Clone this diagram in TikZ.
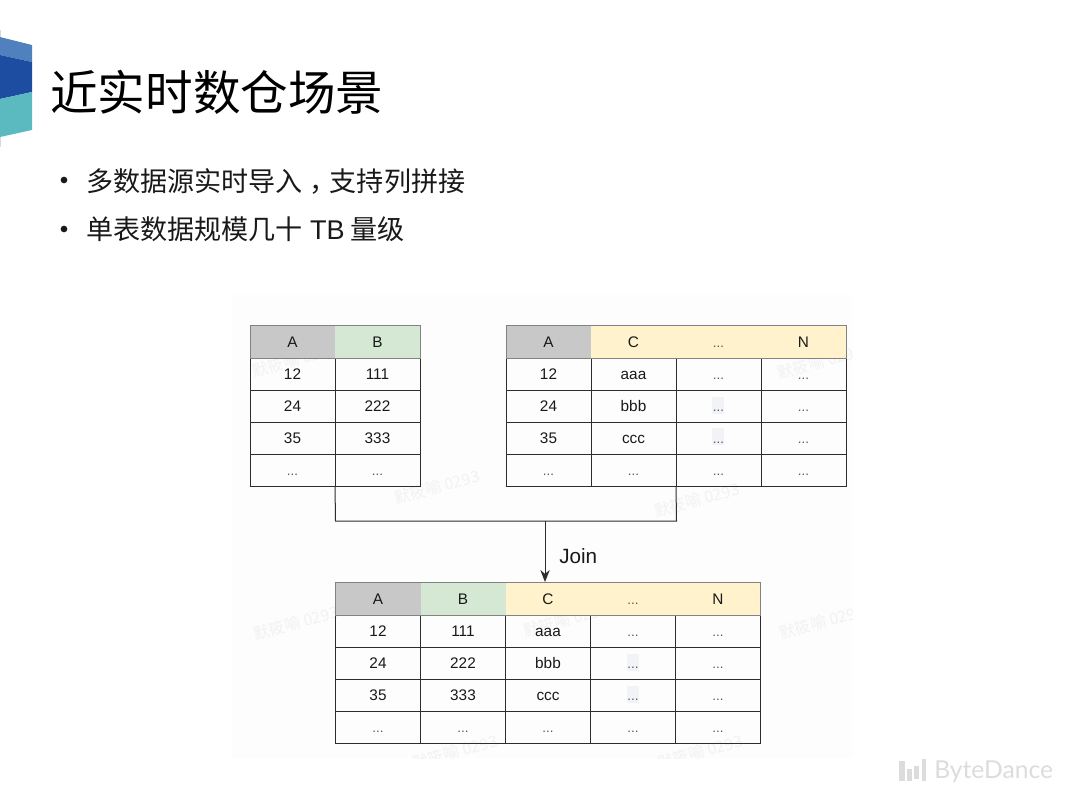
\documentclass[tikz,border=0pt]{standalone}
\usepackage{fontspec}
\setmainfont{Liberation Sans}
\newfontfamily\cjkfont{Noto Sans CJK SC}
\newfontfamily\logofont{Lato}
\usetikzlibrary{arrows.meta}
\definecolor{lineblack}{RGB}{45,45,45}
\definecolor{headframe}{RGB}{130,130,130}
\definecolor{headgray}{RGB}{200,200,200}
\definecolor{headgreen}{RGB}{213,232,212}
\definecolor{headyellow}{RGB}{255,242,204}
\definecolor{textblack}{RGB}{25,25,25}
\definecolor{logolight}{RGB}{80,128,189}
\definecolor{logodark}{RGB}{28,77,161}
\definecolor{logoteal}{RGB}{90,186,192}
\definecolor{logogray}{RGB}{220,220,220}
\definecolor{smudge}{RGB}{241,243,248}
\newcommand{\rowdots}{{\fontsize{10}{12}\selectfont\textcolor{black!65}{...}}}

\begin{document}
\begin{tikzpicture}[x=0.75pt,y=0.75pt,yscale=-1,xscale=1,
	cell/.style={draw=lineblack,line width=0.75pt,minimum width=63.75pt,minimum height=24pt,inner sep=0pt,outer sep=0pt,text height=8.3pt,text depth=0pt,text=textblack,font=\fontsize{11.5}{12}\selectfont},
	headcell/.style={cell,draw=none,minimum height=24.75pt},
	headframe/.style={draw=headframe,line width=0.75pt},
	connector/.style={draw=lineblack,line width=0.75pt},
	watermark/.style={text=black!5,rotate=15,font=\cjkfont\fontsize{12}{13}\selectfont},
	title/.style={anchor=west,inner sep=0pt,text=black,font=\cjkfont\fontsize{35.7}{40}\selectfont},
	bullet/.style={anchor=west,inner sep=0pt,text=textblack,font=\cjkfont\fontsize{20.3}{24}\selectfont},
	bulletdot/.style={circle,fill=textblack,inner sep=0pt,minimum size=5pt}]
	\path [use as bounding box] (0,0) rectangle (1080,810);

	%Shape: Background block
	\fill [black!0.6] (232,295) rectangle (852,758);

	%Shape: Corner logo
	\draw [black!15,line width=0.75pt] (0.5,30) -- (0.5,147);
	\fill [logolight] (0,37) -- (32,45) -- (32,62) -- (0,55) -- cycle;
	\fill [logodark] (0,55) -- (32,62) -- (32,92) -- (0,99) -- cycle;
	\fill [logoteal] (0,99) -- (32,92) -- (32,130) -- (0,137) -- cycle;

	% Text Node
	\node [title] (titleText) at (50,92) {近实时数仓场景};
	\node [bulletdot] (dotOne) at (64,180) {};
	\node [bullet] (bulletOne) at (86,181) {多数据源实时导入\kern5pt，\kern-5pt支持列拼接};
	\node [bulletdot] (dotTwo) at (64,229) {};
	\node [bullet] (bulletTwo) at (86,229) {单表数据规模几十\kern1pt\ {\rmfamily TB}\ 量级};

	% Watermarks
	\begin{scope}
		\clip (232,295) rectangle (852,758);
		\foreach \xpos/\ypos in {295/360,437/487,697/500,820/362,296/623,566/620,822/622,455/752,700/752}
			\node [watermark] at (\xpos,\ypos) {默筱喻 0293};
	\end{scope}

	%Shape: Smudges behind the dots
	\foreach \xpos/\ypos in {712/397,712/428,627/654,627/686}
		\fill [smudge] (\xpos,\ypos) rectangle ++(12,17);

	%Left table
	\node [headcell,fill=headgray] (leftA0) at (292.5,341.5) {A};
	\node [headcell,fill=headgreen] (leftB0) at (377.5,341.5) {B};
	\foreach \rowname/\ycen/\cellA/\cellB in {1/374/12/111,2/406/24/222,3/438/35/333,4/470/\rowdots/\rowdots}{
		\node [cell] (leftA\rowname) at (292.5,\ycen) {\cellA};
		\node [cell] (leftB\rowname) at (377.5,\ycen) {\cellB};
	}
	\draw [headframe] (leftA0.north west) rectangle (leftB0.south east);

	%Right table
	\node [headcell,fill=headgray] (rightA0) at (548.5,341.5) {A};
	\node [headcell,fill=headyellow] (rightC0) at (633.5,341.5) {C};
	\node [headcell,fill=headyellow] (rightD0) at (718.5,341.5) {\rowdots};
	\node [headcell,fill=headyellow] (rightN0) at (803.5,341.5) {N};
	\foreach \rowname/\ycen/\cellA/\cellC in {1/374/12/aaa,2/406/24/bbb,3/438/35/ccc,4/470/\rowdots/\rowdots}{
		\node [cell] (rightA\rowname) at (548.5,\ycen) {\cellA};
		\node [cell] (rightC\rowname) at (633.5,\ycen) {\cellC};
		\node [cell] (rightD\rowname) at (718.5,\ycen) {\rowdots};
		\node [cell] (rightN\rowname) at (803.5,\ycen) {\rowdots};
	}
	\draw [headframe] (rightA0.north west) rectangle (rightN0.south east);

	%Result table
	\node [headcell,fill=headgray] (outA0) at (378,598.5) {A};
	\node [headcell,fill=headgreen] (outB0) at (463,598.5) {B};
	\node [headcell,fill=headyellow] (outC0) at (548,598.5) {C};
	\node [headcell,fill=headyellow] (outD0) at (633,598.5) {\rowdots};
	\node [headcell,fill=headyellow] (outN0) at (718,598.5) {N};
	\foreach \rowname/\ycen/\cellA/\cellB/\cellC in {1/631/12/111/aaa,2/663/24/222/bbb,3/695/35/333/ccc,4/727/\rowdots/\rowdots/\rowdots}{
		\node [cell] (outA\rowname) at (378,\ycen) {\cellA};
		\node [cell] (outB\rowname) at (463,\ycen) {\cellB};
		\node [cell] (outC\rowname) at (548,\ycen) {\cellC};
		\node [cell] (outD\rowname) at (633,\ycen) {\rowdots};
		\node [cell] (outN\rowname) at (718,\ycen) {\rowdots};
	}
	\draw [headframe] (outA0.north west) rectangle (outN0.south east);

	%Straight Lines
	\coordinate (joinL) at (335.5,521);
	\coordinate (joinR) at (676.5,521);
	\coordinate (joinM) at (545,521);
	\draw [connector] (leftB4.south west) -- (joinL) -- (joinR) -- (rightD4.south west);
	\draw [connector,-{Stealth[length=9pt,width=7pt]}] (joinM) -- (joinM |- outC0.north);
	\node [anchor=west,inner sep=0pt,text=textblack,font=\fontsize{15.5}{18}\selectfont] (joinText) at (559,556) {Join};

	%Shape: ByteDance logo
	\fill [logogray] (899,761) rectangle (905,781);
	\fill [logogray] (907,769) rectangle (912,781);
	\fill [logogray] (914,766) rectangle (919,779);
	\fill [logogray] (922,759) rectangle (926,781);
	\node [anchor=west,inner sep=0pt,text=logogray,font=\logofont\fontsize{18.5}{20}\selectfont] (logoText) at (934,772) {ByteDance};
\end{tikzpicture}
\end{document}
